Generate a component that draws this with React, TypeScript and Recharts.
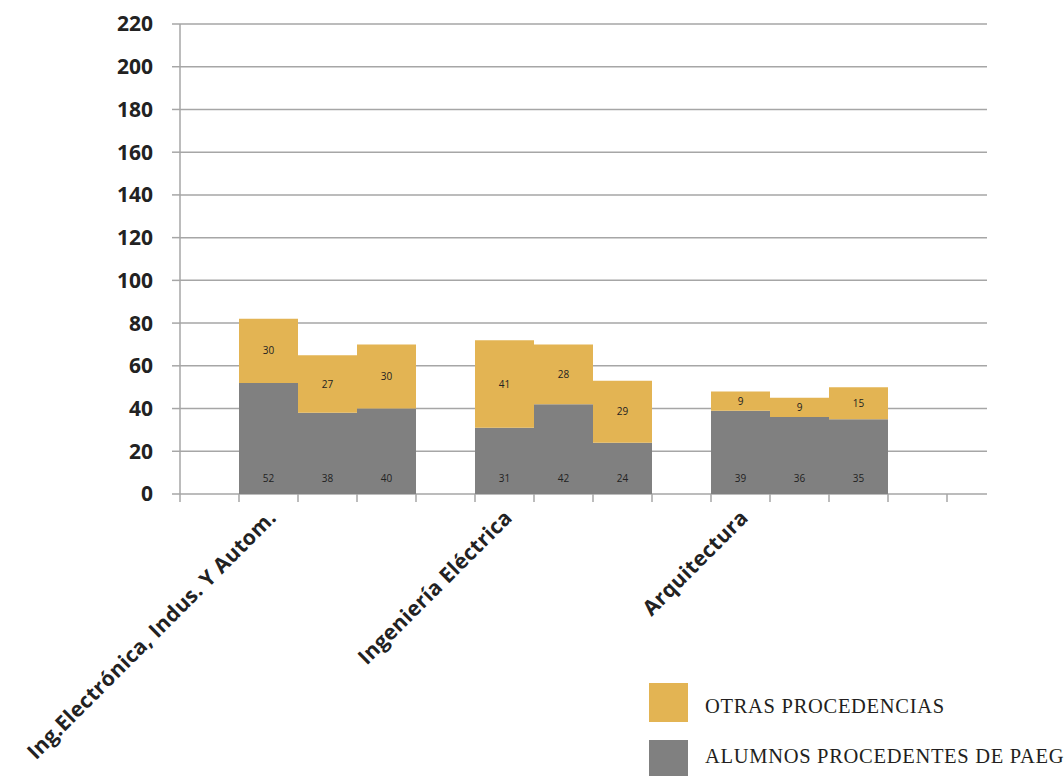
import { Bar, BarChart, CartesianGrid, LabelList, XAxis, YAxis } from 'recharts';

// one entry per slot of the category axis; empty slots are the gaps between degrees
const categories = ['', 'Ing.Electrónica, Indus. Y Autom.', '', '', '', 'Ingeniería Eléctrica', '', '', '', 'Arquitectura', '', '', ''];
const paeg = [null, 52, 38, 40, null, 31, 42, 24, null, 39, 36, 35, null];
const otras = [null, 30, 27, 30, null, 41, 28, 29, null, 9, 9, 15, null];
const yTicks = [0, 20, 40, 60, 80, 100, 120, 140, 160, 180, 200, 220];

const PAEG_NAME = 'ALUMNOS PROCEDENTES DE PAEG';
const OTRAS_NAME = 'OTRAS PROCEDENCIAS';

const GOLD = '#E3B453';
const GRAY = '#808080';
const LINE = '#A6A6A6';

const W = 1064;
const H = 776;
const LEFT = 180;
const TOP = 24;
const PLOT_H = 470;
const SLOT = 59;
const PLOT_W = SLOT * categories.length;

const data = categories.map((c, i) => ({ idx: i, name: c, paeg: paeg[i], otras: otras[i] }));

const CatTick = (props: any) => {
    const { x, y, payload } = props;
    const i = payload.value;
    const label = categories[i];
    const lx = x + 9;
    const ly = y + 25;
    return (
        <g>
            <line x1={x - SLOT / 2} x2={x - SLOT / 2} y1={y} y2={y + 8} stroke={LINE} strokeWidth={1.5} />
            {i === categories.length - 1 && (
                <line x1={x + SLOT / 2} x2={x + SLOT / 2} y1={y} y2={y + 8} stroke={LINE} strokeWidth={1.5} />
            )}
            {label && (
                <text x={lx} y={ly} transform={`rotate(-45, ${lx}, ${ly})`} textAnchor="end"
                      fontFamily="'Open Sans', sans-serif" fontWeight={700} fontSize={21} letterSpacing={0.3} fill="#222">
                    {label}
                </text>
            )}
        </g>
    );
};

export default function App() {
    return (
        <div style={{ position: 'absolute', left: 0, top: 0, width: W, height: H, overflow: 'hidden', background: '#fff' }}>
            <BarChart width={W} height={H} data={data} barCategoryGap={0} barGap={0}
                      margin={{ top: TOP, right: W - LEFT - PLOT_W, left: 0, bottom: 0 }}>
                <CartesianGrid vertical={false} stroke={LINE} strokeWidth={1.5} x={LEFT} width={807} />
                <XAxis dataKey="idx" type="category" interval={0} height={H - TOP - PLOT_H}
                       axisLine={false} tickLine={false} tickSize={0} tickMargin={0} tick={<CatTick />} />
                <YAxis domain={[0, 220]} ticks={yTicks} interval={0} width={LEFT}
                       axisLine={{ stroke: LINE, strokeWidth: 1.5 }} tickLine={{ stroke: LINE, strokeWidth: 1.5 }}
                       tickSize={8} tickMargin={19}
                       tick={{ fontFamily: "'Open Sans', sans-serif", fontWeight: 700, fontSize: 21, fill: '#222' }} />
                <Bar dataKey="paeg" name={PAEG_NAME} stackId="a" fill={GRAY} isAnimationActive={false}>
                    <LabelList dataKey="paeg" position="insideBottom" offset={12}
                               style={{ fontFamily: "'Open Sans', sans-serif", fontSize: 10, fill: '#222' }} />
                </Bar>
                <Bar dataKey="otras" name={OTRAS_NAME} stackId="a" fill={GOLD} isAnimationActive={false}>
                    <LabelList dataKey="otras" position="center"
                               style={{ fontFamily: "'Open Sans', sans-serif", fontSize: 10, fill: '#222' }} />
                </Bar>
            </BarChart>
            <svg width={W} height={H} style={{ position: 'absolute', left: 0, top: 0, pointerEvents: 'none' }}>
                {[{ name: OTRAS_NAME, color: GOLD }, { name: PAEG_NAME, color: GRAY }].map((item, i) => (
                    <g key={item.name}>
                        <rect x={649} y={683 + i * 57} width={39} height={39} fill={item.color} />
                        <text x={705} y={713 + i * 50} fontFamily="'Liberation Serif', serif" fontSize={20.5}
                              letterSpacing={0.7} fill="#231F20">
                            {item.name}
                        </text>
                    </g>
                ))}
            </svg>
        </div>
    );
}
